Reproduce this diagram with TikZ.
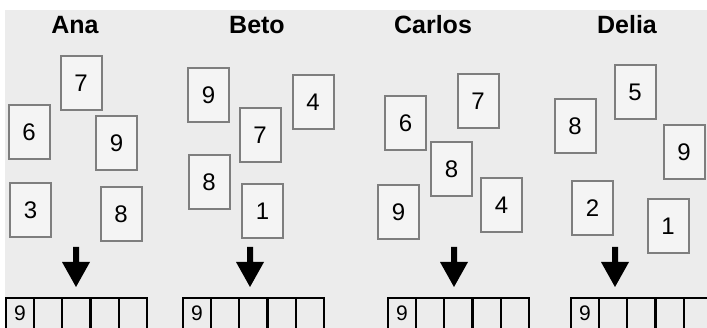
\documentclass[tikz,border=0pt]{standalone}
\usepackage{fontspec}
\setmainfont{Liberation Sans}
\definecolor{bg}{HTML}{ECECEC}
\definecolor{cardfill}{HTML}{F4F4F4}
\definecolor{cardline}{HTML}{7E7E7E}
\tikzset{
  card/.style={draw=cardline, line width=2pt, fill=cardfill, minimum width=41pt, minimum height=54pt, inner sep=0pt, font=\fontsize{24}{24}\selectfont},
  name label/.style={font=\fontsize{25}{25}\selectfont\bfseries, inner sep=0pt},
  cell/.style={draw=black, line width=2pt, minimum width=28pt, minimum height=40pt, inner sep=0pt, anchor=north west},
  celltext/.style={font=\fontsize{21}{21}\selectfont, inner sep=0pt},
  downarrow/.style={fill=black}
}
\begin{document}
\begin{tikzpicture}[x=1pt,y=-1pt]
\useasboundingbox (0,0) rectangle (707,328);
\fill[white] (0,0) rectangle (707,328);
\fill[bg] (5,10) rectangle (707,328);
\begin{scope}
\clip (0,0) rectangle (707,328);
% labels
\node[name label] (lA) at (75,25) {Ana};
\node[name label] (lB) at (257,25) {Beto};
\node[name label] (lC) at (433,25) {Carlos};
\node[name label] (lD) at (627,25) {Delia};
% Ana cards
\node[card] (a7) at (81,83.5) {7};
\node[card] (a6) at (29,132.5) {6};
\node[card] (a9) at (116.5,143.5) {9};
\node[card] (a3) at (30.5,210) {3};
\node[card] (a8) at (121,214.5) {8};
% Beto cards
\node[card] (b9) at (208.5,95.5) {9};
\node[card] (b7) at (260,135) {7};
\node[card] (b4) at (313,102.5) {4};
\node[card] (b8) at (209,182) {8};
\node[card] (b1) at (262.5,211) {1};
% Carlos cards
\node[card] (c6) at (405.5,123) {6};
\node[card] (c7) at (478,101.5) {7};
\node[card] (c8) at (451.5,169) {8};
\node[card] (c9) at (398.5,212.5) {9};
\node[card] (c4) at (501.5,205) {4};
% Delia cards
\node[card] (d8) at (575,126) {8};
\node[card] (d5) at (635,92.5) {5};
\node[card] (d9) at (684,152.5) {9};
\node[card] (d2) at (592.5,208) {2};
\node[card] (d1) at (668,226) {1};
% arrows
\foreach \x/\n in {76/A,250/B,454/C,615/D}{
  \fill[downarrow] (\x-3,247) -- (\x+3,247) -- (\x+3,262) -- (\x+14,262) -- (\x,287) -- (\x-14,262) -- (\x-3,262) -- cycle;
}
% boxes
\foreach \x/\n in {5/A,182/B,387/C,570/D}{
  \foreach \k in {0,...,4}{
    \node[cell] (box\n\k) at (\x+\k*28.2,297) {};
  }
  \node[celltext] (nine\n) at ([yshift=-16pt]box\n0.north) {9};
}
\end{scope}
\end{tikzpicture}
\end{document}
